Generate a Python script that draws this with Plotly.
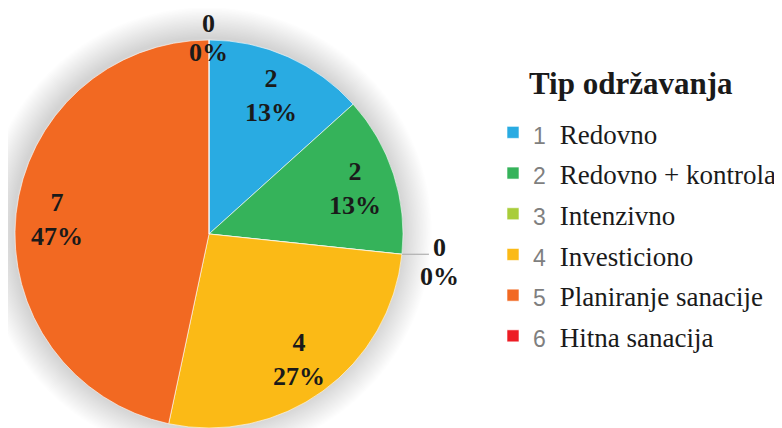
import math
import plotly.graph_objects as go

# ---- data ----
codes = ["1", "2", "3", "4", "5", "6"]
categories = ["Redovno", "Redovno + kontrola", "Intenzivno", "Investiciono",
              "Planiranje sanacije", "Hitna sanacija"]
values = [2, 2, 0, 4, 7, 0]
colors = ["#29ABE2", "#35B35A", "#A9CD3A", "#FBBA16", "#F26922", "#ED1C24"]
legend_title = "Tip održavanja"

# the page body adds an 8px offset; size the figure so the page does not overflow
OFF = 8
W, H = 782 - OFF, 428 - OFF

def px(x):
    return (x - OFF) / W

def py(y):
    return 1 - (y - OFF) / H

# pie placement (screen px)
CX, CY, R = 209, 234, 194
dom_x = [px(CX - R), px(CX + R)]
dom_y = [max(0.0, py(CY + R)), py(CY - R)]

labels = [
    f"<span style='font-family:Liberation Sans;color:#7f7f7f;font-size:23px'>{c}</span>"
    f"<span style='font-size:28px'>&nbsp;&nbsp;</span>"
    f"<span style='font-size:27px'>{n}</span>"
    for c, n in zip(codes, categories)
]

fig = go.Figure()

# soft shadow (decoration)
for k in range(22, 0, -1):
    rr = R + k * 1.4
    fig.add_shape(type="circle", xref="paper", yref="paper", layer="below",
                  x0=px(CX - rr - 2), x1=px(CX + rr - 2),
                  y0=py(CY + rr - 2), y1=py(CY - rr - 2),
                  fillcolor="rgba(0,0,0,0.0065)", line=dict(width=0))

fig.add_trace(go.Pie(
    labels=labels, values=values, sort=False, direction="clockwise",
    rotation=0, marker=dict(colors=colors, line=dict(color="white", width=0.6)),
    textinfo="none", hoverinfo="value+percent",
    domain=dict(x=dom_x, y=dom_y), showlegend=True,
))

total = sum(values)
cum = 0
lab_font = dict(family="Liberation Serif", size=26, color="#1a1a1a")

def add_label(x, y, text):
    fig.add_annotation(x=px(x), y=py(y), xref="paper", yref="paper", text=text,
                       xanchor="center", yanchor="middle",
                       showarrow=False, font=lab_font, align="center")

for v in values:
    mid = (cum + v / 2) / total * 360
    cum += v
    pct = round(v / total * 100)
    th = math.radians(mid)
    if v > 0:
        r = 0.79 * R
        x, y = CX + r * math.sin(th), CY + 2 - r * math.cos(th)
        add_label(x, y, f"<b>{v}<br>{pct}%</b>")
    else:
        ex, ey = CX + R * math.sin(th), CY - R * math.cos(th)
        if abs(math.sin(th)) < 0.3:
            x, y = ex, ey - 2
        else:
            fig.add_shape(type="line", xref="paper", yref="paper",
                          x0=px(ex), y0=py(ey), x1=px(ex + 27), y1=py(ey),
                          line=dict(color="#b0b0b0", width=1.2))
            x, y = ex + 38, ey + 8
        add_label(x, y - 14.5, f"<b>{v}</b>")
        add_label(x, y + 14.5, f"<b>{pct}%</b>")

# legend title
fig.add_annotation(x=px(631), y=py(83), xref="paper", yref="paper",
                   text=f"<b>{legend_title}</b>", showarrow=False,
                   xanchor="center", yanchor="middle",
                   font=dict(family="Liberation Serif", size=31, color="#1a1a1a"))

fig.update_layout(
    width=W, height=H, autosize=False,
    margin=dict(l=0, r=0, t=0, b=0),
    paper_bgcolor="white", plot_bgcolor="white",
    legend=dict(
        x=px(493), y=py(107), xanchor="left", yanchor="top",
        traceorder="normal",
        font=dict(family="Liberation Serif", size=29, color="#1a1a1a"),
        bgcolor="rgba(0,0,0,0)",
    ),
)

fig.write_html("out.html")
